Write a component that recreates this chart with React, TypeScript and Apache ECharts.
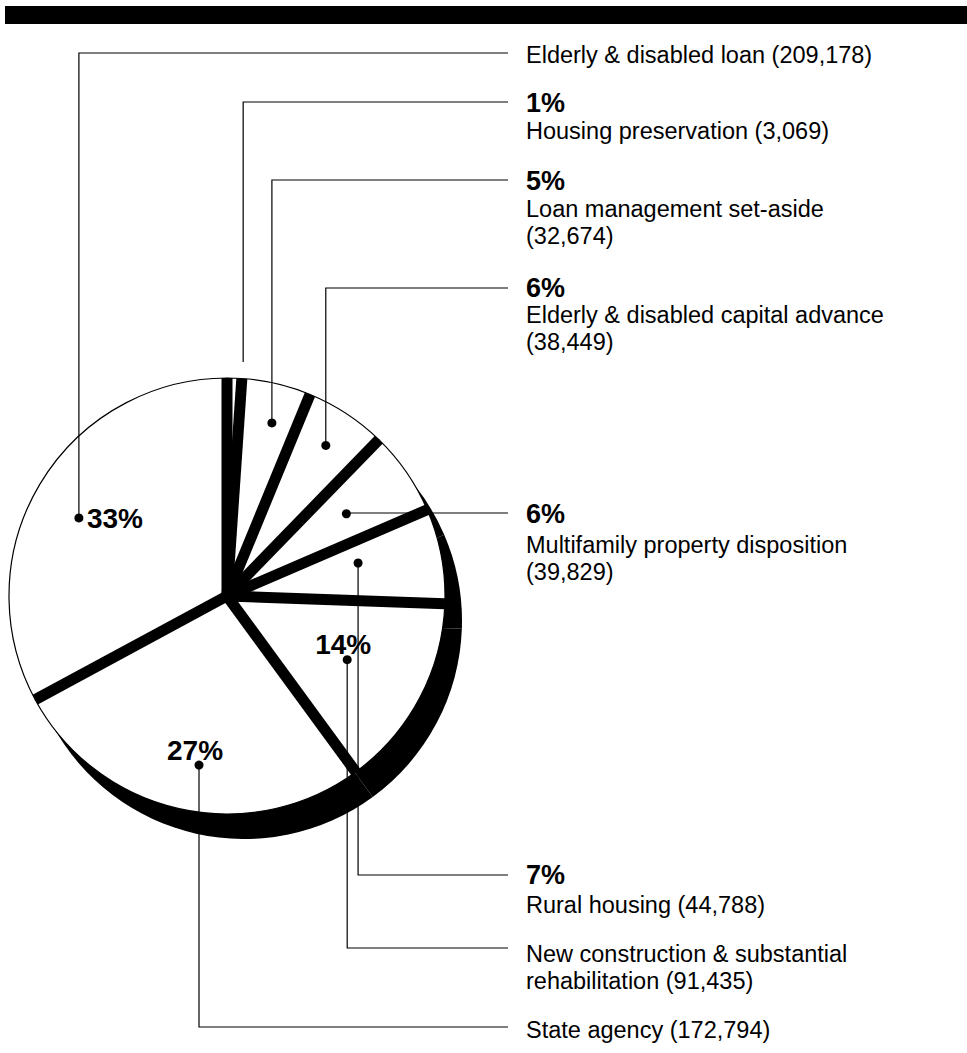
import React, { useEffect, useRef } from 'react';
import * as echarts from 'echarts';

// ---- data ----
const categories = [
  'Housing preservation',
  'Loan management set-aside',
  'Elderly & disabled capital advance',
  'Multifamily property disposition',
  'Rural housing',
  'New construction & substantial\nrehabilitation',
  'State agency',
  'Elderly & disabled loan',
];
const values = [3069, 32674, 38449, 39829, 44788, 91435, 172794, 209178];
const percentLabels = ['1%', '5%', '6%', '6%', '7%', '14%', '27%', '33%'];
const breakBeforeValue = [false, true, true, true, false, false, false, false];

// ---- layout / style ----
const W = 967;
const H = 1053;
const CX = 227;
const CY = 596;
const R = 218;
const SHADOW_DX = 17;
const SHADOW_DY = 25;
const MIN_ANGLE = 3.9;
const SEP_WIDTH = 11;
const TEXT_X = 526;
const LINE_END_X = 508;
const FONT = '"Liberation Sans", Arial, Helvetica, sans-serif';
const NAME_SIZE = 23.5;
const PCT_SIZE = 27;
const PCT_INSIDE_SIZE = 28;
const LINE_H = 27;

const dotRadius = [1.076, 0.82, 0.826, 0.665, 0.62, 0.624, 0.786, 0.768];
const dotAngleAdj = [2, 1.4, 0, 0, -3.5, 0, -3.3, -3];
const showDot = [false, true, true, true, true, true, true, true];
const leaderY = [102, 180, 288, 513, 875, 948, 1027, 53];
const pctY = [103, 181, 288, 514, 875, 0, 0, 0];
const nameY = [131, 209, 315, 545, 905, 954, 1030, 55];
const pctInside = [false, false, false, false, false, true, true, true];

const fmt = (v: number) => String(v).replace(/\B(?=(\d{3})+(?!\d))/g, ',');

export default function App() {
  const ref = useRef<HTMLDivElement>(null);

  useEffect(() => {
    if (!ref.current) return;
    const chart = echarts.init(ref.current, null, { renderer: 'svg' });
    const pieData = categories.map((c, i) => ({ name: c, value: values[i] }));

    chart.setOption({
      animation: false,
      backgroundColor: '#fff',
      series: [
        {
          type: 'pie',
          silent: true,
          center: [CX + SHADOW_DX, CY + SHADOW_DY],
          radius: R,
          startAngle: 90,
          clockwise: true,
          minAngle: MIN_ANGLE,
          data: pieData,
          label: { show: false },
          labelLine: { show: false },
          itemStyle: { color: '#000', borderWidth: 0 },
          z: 1,
        },
        {
          type: 'pie',
          silent: true,
          center: [CX, CY],
          radius: R,
          startAngle: 90,
          clockwise: true,
          minAngle: MIN_ANGLE,
          data: pieData,
          label: { show: false },
          labelLine: { show: false },
          itemStyle: { color: '#fff', borderColor: '#000', borderWidth: 1.2 },
          z: 2,
        },
      ],
    });

    const elements: any[] = [
      { type: 'rect', z: 10, shape: { x: 5, y: 6, width: W - 5, height: 18 }, style: { fill: '#000' } },
    ];

    let layouts: any[] = [];
    try {
      const data = (chart as any).getModel().getSeriesByIndex(1).getData();
      layouts = values.map((_, i) => data.getItemLayout(i));
    } catch (e) {
      layouts = [];
    }
    if (!layouts.length || !layouts[0]) {
      const total = values.reduce((a, b) => a + b, 0);
      let a = -Math.PI / 2;
      layouts = values.map((v) => {
        const ang = (v / total) * Math.PI * 2;
        const l = { cx: CX, cy: CY, r: R, startAngle: a, endAngle: a + ang };
        a += ang;
        return l;
      });
    }

    layouts.forEach((lay) => {
      const cx = lay.cx;
      const cy = lay.cy;
      const r = lay.r;
      elements.push({
        type: 'line',
        z: 20,
        silent: true,
        shape: { x1: cx, y1: cy, x2: cx + r * Math.cos(lay.startAngle), y2: cy + r * Math.sin(lay.startAngle) },
        style: { stroke: '#000', lineWidth: SEP_WIDTH, lineCap: 'butt' },
      });
    });

    layouts.forEach((lay, i) => {
      const mid = (lay.startAngle + lay.endAngle) / 2 + (dotAngleAdj[i] * Math.PI) / 180;
      const dx = lay.cx + lay.r * dotRadius[i] * Math.cos(mid);
      const dy = lay.cy + lay.r * dotRadius[i] * Math.sin(mid);
      elements.push({
        type: 'polyline',
        z: 30,
        silent: true,
        shape: { points: [[dx, dy], [dx, leaderY[i]], [LINE_END_X, leaderY[i]]] },
        style: { stroke: '#000', lineWidth: 1.2, fill: null },
      });
      if (showDot[i]) {
        elements.push({ type: 'circle', z: 31, silent: true, shape: { cx: dx, cy: dy, r: 4.5 }, style: { fill: '#000' } });
      }
      if (pctInside[i]) {
        const left = i === 7;
        elements.push({
          type: 'text',
          z: 32,
          silent: true,
          x: left ? dx + 8 : dx - 4,
          y: left ? dy + 1 : dy - 15,
          style: {
            text: percentLabels[i],
            fontFamily: FONT,
            fontSize: PCT_INSIDE_SIZE,
            fontWeight: 'bold',
            fill: '#000',
            align: left ? 'left' : 'center',
            textAlign: left ? 'left' : 'center',
            verticalAlign: 'middle',
            textVerticalAlign: 'middle',
          },
        });
      } else {
        elements.push({
          type: 'text',
          z: 32,
          silent: true,
          x: TEXT_X,
          y: pctY[i],
          style: {
            text: percentLabels[i],
            fontFamily: FONT,
            fontSize: PCT_SIZE,
            fontWeight: 'bold',
            fill: '#000',
            align: 'left',
            textAlign: 'left',
            verticalAlign: 'middle',
            textVerticalAlign: 'middle',
          },
        });
      }
      const name = categories[i] + (breakBeforeValue[i] ? '\n' : ' ') + '(' + fmt(values[i]) + ')';
      elements.push({
        type: 'text',
        z: 32,
        silent: true,
        x: TEXT_X,
        y: nameY[i] - LINE_H / 2,
        style: {
          text: name,
          fontFamily: FONT,
          fontSize: NAME_SIZE,
          fill: '#000',
          lineHeight: LINE_H,
          align: 'left',
          textAlign: 'left',
          verticalAlign: 'top',
          textVerticalAlign: 'top',
        },
      });
    });

    chart.setOption({ graphic: elements });

    return () => chart.dispose();
  }, []);

  return (
    <div
      ref={ref}
      style={{ position: 'absolute', left: 0, top: 0, width: W, height: H, background: '#fff' }}
    />
  );
}
